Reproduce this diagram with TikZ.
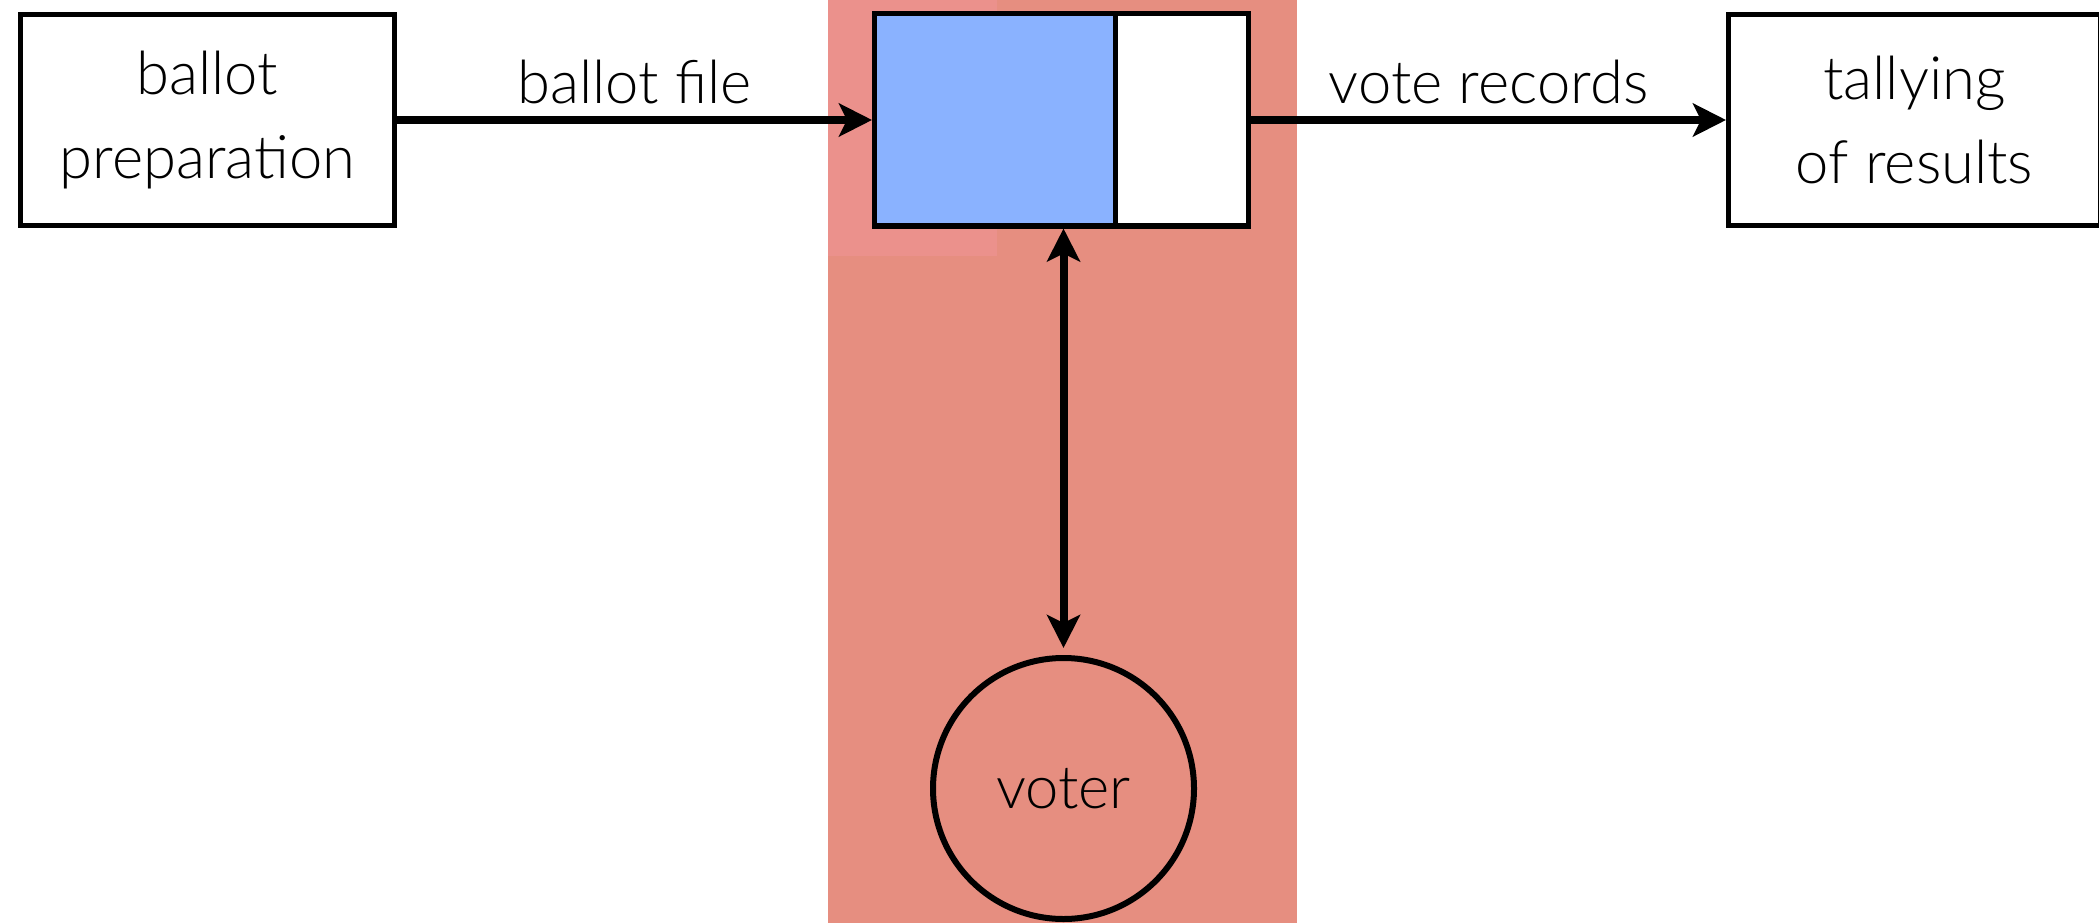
\documentclass[tikz,border=0pt]{standalone}
\usepackage{fontspec}
\setmainfont{Lato}[UprightFont={* Light}]
\usepackage{xcolor}
\usetikzlibrary{arrows.meta,positioning}
\definecolor{boothred}{RGB}{230,142,128}
\definecolor{boothpink}{RGB}{235,145,140}
\definecolor{screenblue}{RGB}{138,178,255}

\begin{document}
\begin{tikzpicture}[
    font=\fontsize{17}{24}\selectfont,
    >={Stealth[length=0.33cm, width=0.33cm, inset=0.08cm]},
    stage/.style={draw, line width=0.05cm, minimum width=3.74cm, minimum height=2.11cm, align=center, inner sep=0pt},
    panel/.style={draw, line width=0.05cm, minimum height=2.12cm, inner sep=0pt},
    flow/.style={line width=0.08cm, ->}
]
    \useasboundingbox (0,0) rectangle (20.99,9.23);
    \fill[boothred] (8.28,0) rectangle (12.97,9.23);
    \fill[boothpink] (8.28,6.67) rectangle (9.97,9.23);

    \node[stage] (prep) at (2.075,8.03) {ballot\\preparation};
    \node[panel, fill=screenblue, minimum width=2.405cm] (screen) at (9.9475,8.03) {};
    \node[panel, fill=white, minimum width=1.335cm] (slot) at (11.8175,8.03) {};
    \node[stage, minimum width=3.72cm] (tally) at (19.145,8.03) {tallying\\of results};
    \node[draw, circle, line width=0.06cm, minimum size=2.61cm, inner sep=0pt] (voter) at (10.635,1.345) {voter};

    \draw[flow] (prep) -- node[above] {ballot file} (screen);
    \draw[flow] (slot) -- node[above] {vote records} (tally);
    \draw[flow, <->, shorten <=0.07cm] (voter.north) -- (voter.north |- screen.south);
\end{tikzpicture}
\end{document}
